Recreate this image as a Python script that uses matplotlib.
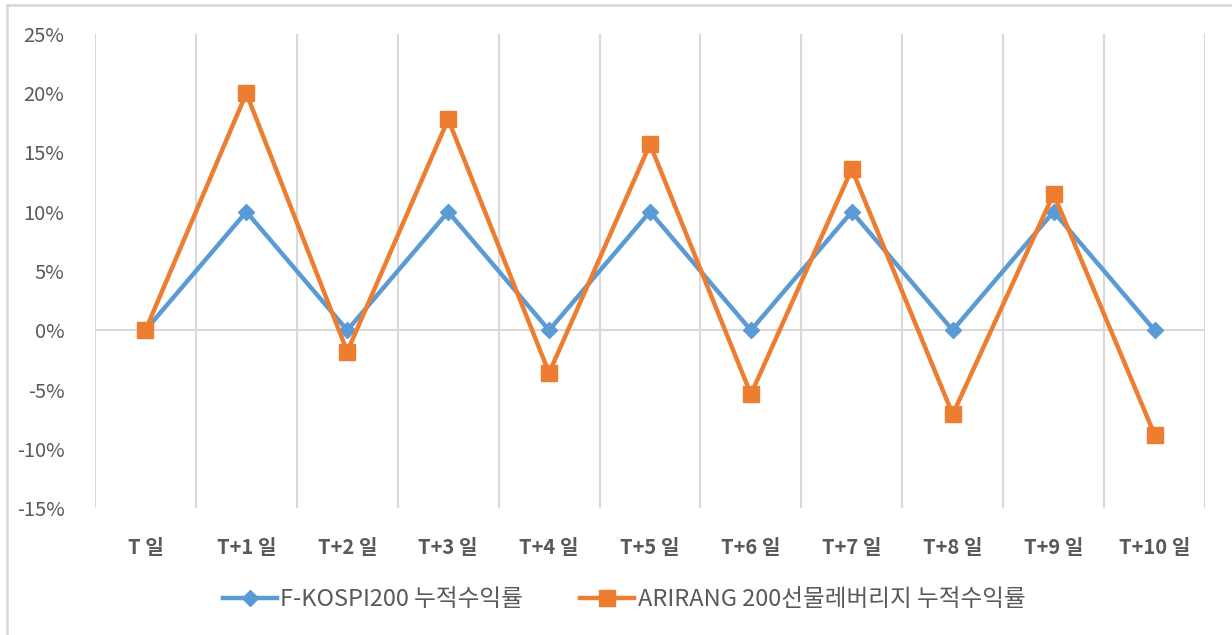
import matplotlib
matplotlib.use("Agg")
import matplotlib.pyplot as plt
from matplotlib.lines import Line2D
from matplotlib.ticker import FuncFormatter, MultipleLocator

plt.rcParams['font.family'] = ['Noto Sans CJK KR', 'DejaVu Sans']

categories = ["T 일", "T+1 일", "T+2 일", "T+3 일", "T+4 일", "T+5 일",
              "T+6 일", "T+7 일", "T+8 일", "T+9 일", "T+10 일"]
kospi = [0.0, 10.0, 0.0, 10.0, 0.0, 10.0, 0.0, 10.0, 0.0, 10.0, 0.0]
arirang = [0.0, 20.0, -1.8, 17.8, -3.6, 15.7, -5.4, 13.6, -7.1, 11.5, -8.8]
series_names = ["F-KOSPI200 누적수익률", "ARIRANG 200선물레버리지 누적수익률"]

blue = "#5b9bd5"
orange = "#ed7d31"
grid_c = "#d9d9d9"
text_c = "#595959"

fig = plt.figure(figsize=(12.32, 6.35), dpi=100)
ax = fig.add_axes([95/1232, 1-508/635, (1205-95)/1232, (508-34)/635])

x = list(range(len(categories)))
ax.plot(x, kospi, color=blue, lw=3.2, marker="D", ms=8, mec=blue, mfc=blue,
        label=series_names[0], zorder=3)
ax.plot(x, arirang, color=orange, lw=3.2, marker="s", ms=12, mec=orange, mfc=orange,
        label=series_names[1], zorder=4)

ax.set_xlim(-0.5, len(categories)-0.5)
ax.set_ylim(-15, 25)
ax.yaxis.set_major_locator(MultipleLocator(5))
ax.yaxis.set_major_formatter(FuncFormatter(lambda v, p: f"{int(round(v))}%"))

for b in [i - 0.5 for i in range(len(categories)+1)]:
    ax.axvline(b, color=grid_c, lw=1.5, zorder=1)
ax.axhline(0, color=grid_c, lw=1.5, zorder=1)

for s in ax.spines.values():
    s.set_visible(False)
ax.tick_params(axis='both', length=0)
ax.tick_params(axis='y', labelsize=14.5, labelcolor=text_c, pad=22)
ax.set_xticks(x)
ax.set_xticklabels(categories, fontsize=14.5, fontweight='bold', color=text_c)
ax.tick_params(axis='x', pad=21)

handles = [
    Line2D([0], [0], color=blue, lw=3.2, marker="D", ms=8),
    Line2D([0], [0], color=orange, lw=3.2, marker="s", ms=12),
]
fig.legend(handles, series_names, loc='center', bbox_to_anchor=(624/1232, 1-600/635),
           ncol=2, frameon=False, fontsize=17, labelcolor=text_c,
           handlelength=2.3, handletextpad=0.15, columnspacing=2.4)

# chart border (top and left)
fig.add_artist(Line2D([7/1232, 1.0], [1-5/635, 1-5/635], color=grid_c, lw=2, transform=fig.transFigure))
fig.add_artist(Line2D([7/1232, 7/1232], [0, 1-5/635], color=grid_c, lw=2, transform=fig.transFigure))

fig.savefig("out.png", dpi=100, facecolor="white")
